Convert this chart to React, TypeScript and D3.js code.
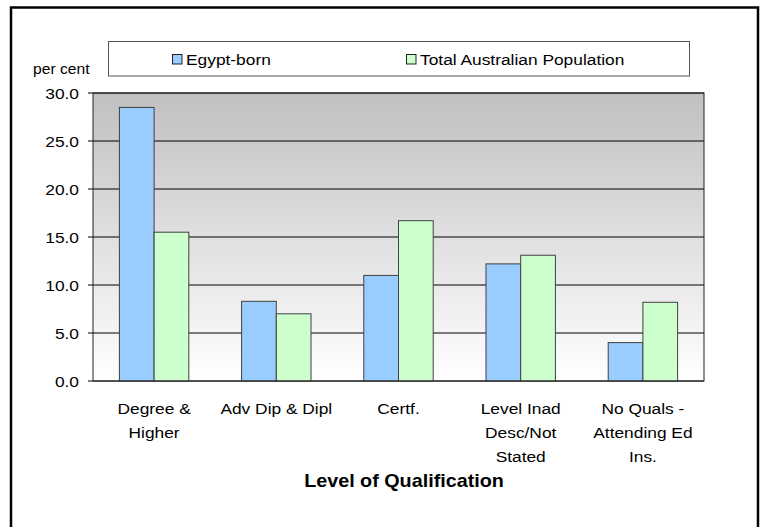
import React from "react";
import * as d3 from "d3";

const categories = ["Degree & Higher", "Adv Dip & Dipl", "Certf.", "Level Inad Desc/Not Stated", "No Quals - Attending Ed Ins."];
const categoryLines = [["Degree &", "Higher"], ["Adv Dip & Dipl"], ["Certf."], ["Level Inad", "Desc/Not", "Stated"], ["No Quals -", "Attending Ed", "Ins."]];
const seriesNames = ["Egypt-born", "Total Australian Population"];
const egyptBorn = [28.5, 8.3, 11.0, 12.2, 4.0];
const totalAustralia = [15.5, 7.0, 16.7, 13.1, 8.2];
const yTicks = [0, 5, 10, 15, 20, 25, 30];
const colors = ["#99ccff", "#ccffcc"];

const W = 763;
const H = 527;
const plot = { left: 93, right: 704, top: 93, bottom: 381 };
const FONT = "Liberation Sans, Arial, sans-serif";
const SX = 1.12;

export default function App() {
  const x = d3.scaleBand<string>().domain(categories).range([plot.left, plot.right]).paddingInner(0.432).paddingOuter(0.216);
  const xs = d3.scaleBand<string>().domain(seriesNames).range([0, x.bandwidth()]);
  const y = d3.scaleLinear().domain([0, 30]).range([plot.bottom, plot.top]);
  const fmt = d3.format(".1f");
  const series = [egyptBorn, totalAustralia];

  const stretched = (tx: number, ty: number) => `translate(${tx},${ty}) scale(${SX},1)`;

  return (
    <svg width={W} height={H} style={{ position: "absolute", left: 0, top: 0, background: "#fff" }} fontFamily={FONT}>
      <defs>
        <linearGradient id="bg" x1="0" y1="0" x2="0" y2="1">
          <stop offset="0" stopColor="#c0c0c0" />
          <stop offset="1" stopColor="#ffffff" />
        </linearGradient>
      </defs>
      <rect x={0} y={0} width={W} height={H} fill="#fff" />
      <rect x={11} y={7.5} width={747} height={540} fill="none" stroke="#000" strokeWidth={2.5} />

      {/* plot background */}
      <rect x={plot.left} y={plot.top} width={plot.right - plot.left} height={plot.bottom - plot.top} fill="url(#bg)" />
      {yTicks.map((t) => (
        <g key={t}>
          <line x1={plot.left - 5} x2={plot.right} y1={y(t)} y2={y(t)} stroke="#000" strokeWidth={1} />
          <text transform={stretched(79, y(t) + 5.5)} textAnchor="end" fontSize={15.5} fill="#000">
            {fmt(t)}
          </text>
        </g>
      ))}

      {/* bars */}
      {categories.map((c, i) => (
        <g key={c}>
          {series.map((s, j) => (
            <rect
              key={j}
              x={(x(c) as number) + (xs(seriesNames[j]) as number)}
              y={y(s[i])}
              width={xs.bandwidth()}
              height={y(0) - y(s[i])}
              fill={colors[j]}
              stroke="#404040"
              strokeWidth={1}
            />
          ))}
        </g>
      ))}
      <rect x={plot.left} y={plot.top} width={plot.right - plot.left} height={plot.bottom - plot.top} fill="none" stroke="#222" strokeWidth={1} />

      {/* category labels */}
      {categories.map((c, i) => (
        <g key={c}>
          {categoryLines[i].map((ln, k) => (
            <text key={k} transform={stretched((x(c) as number) + x.bandwidth() / 2, 414 + k * 24)} textAnchor="middle" fontSize={15.5} fill="#000">
              {ln}
            </text>
          ))}
        </g>
      ))}

      <text transform={`translate(404,487) scale(1.04,1)`} textAnchor="middle" fontSize={19} fontWeight="bold" fill="#000">
        Level of Qualification
      </text>

      <text transform={stretched(33, 74)} fontSize={14} fill="#000">
        per cent
      </text>

      {/* legend */}
      <rect x={108.5} y={41.5} width={581} height={34.5} fill="#fff" stroke="#555" strokeWidth={1} />
      {seriesNames.map((n, j) => {
        const sx = j === 0 ? 172 : 406;
        return (
          <g key={n}>
            <rect x={sx + 0.5} y={54.5} width={9.5} height={9.5} fill={colors[j]} stroke="#222" strokeWidth={1} />
            <text transform={stretched(sx + 14, 64.5)} fontSize={15.5} fill="#000">
              {n}
            </text>
          </g>
        );
      })}
    </svg>
  );
}
